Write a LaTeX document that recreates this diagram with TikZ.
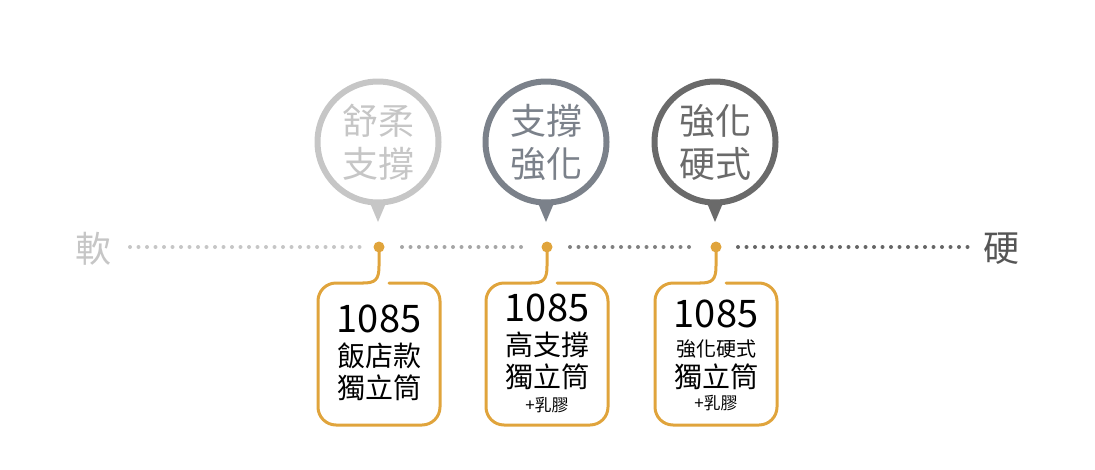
\documentclass[tikz,border=0pt]{standalone}
\usepackage{fontspec}
\setmainfont{Noto Sans CJK TC}
\definecolor{orng}{HTML}{E0A43C}
\definecolor{ga}{HTML}{C6C6C6}
\definecolor{gb}{HTML}{7B818A}
\definecolor{gc}{HTML}{6A6A6A}
\newcommand{\fs}[2]{\fontsize{#1}{#2}\selectfont}
\tikzset{bubble/.style={circle,line width=6pt,minimum size=121pt,inner sep=0pt,align=center,font=\fs{36}{43}},
dotline/.style={line width=4pt,line cap=round,dash pattern=on 0pt off 8.5pt},
obox/.style={line width=3pt,orng,line cap=round},
num/.style={text=black,inner sep=0pt,font=\fs{38}{40}},
big/.style={text=black,inner sep=0pt,font=\fs{28}{30}},
mid/.style={text=black,inner sep=0pt,font=\fs{20}{22}},
small/.style={text=black,inner sep=0pt,font=\fs{17}{19}}}
\begin{document}
\begin{tikzpicture}[x=1pt,y=-1pt]
\useasboundingbox (0,0) rectangle (1095,469);
\node[text=ga,font=\fs{36}{40}] (soft) at (93,249) {軟};
\node[text=gc!80!black,font=\fs{36}{40}] (hard) at (1001,249) {硬};
\foreach \x/\c/\t/\n in {378/ga/{舒柔\\支撐}/a,546/gb/{支撐\\強化}/b,715/gc/{強化\\硬式}/c}{
  \node[bubble,draw=\c,text=\c] (\n) at (\x,142) {\t};
  \fill[\c] (\x-8,203) -- (\x+8,203) -- (\x,222) -- cycle;
  \fill[orng] (\x+1,247) circle (5.5pt);
  \coordinate (d\n) at (\x+1,247);
}
\draw[dotline,ga] (130,247) -- (360,247);
\draw[dotline,gray!70] (402,247) -- (528,247);
\draw[dotline,gray] (570,247) -- (696,247);
\draw[dotline,gray!80!black] (738,247) -- (968,247);
% boxes
\foreach \x/\n in {379/a,547/b,716/c}{
  \draw[obox] (d\n) -- ++(0,19) .. controls ++(0,14) and ++(12,0) .. ++(-16,17);
  \draw[obox,rounded corners=18pt] (\x-16,283) -- (\x-61,283) -- (\x-61,425) -- (\x+61,425) -- (\x+61,283) -- (\x+10,283);
}
\node[num] (a1) at (379,319) {1085};
\node[big] (a2) at (379,356) {飯店款};
\node[big] (a3) at (379,388) {獨立筒};
\node[num] (b1) at (547,308) {1085};
\node[big] (b2) at (547,345) {高支撐};
\node[big] (b3) at (547,377) {獨立筒};
\node[small] (b4) at (547,405) {+乳膠};
\node[num] (c1) at (716,314) {1085};
\node[mid] (c2) at (716,349) {強化硬式};
\node[big] (c3) at (716,377) {獨立筒};
\node[small] (c4) at (716,403) {+乳膠};
\end{tikzpicture}
\end{document}
